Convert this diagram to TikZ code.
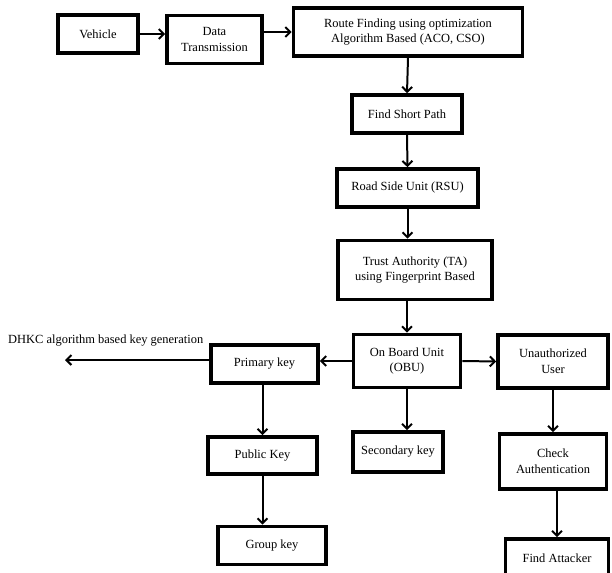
\documentclass[tikz,border=0pt]{standalone}
\usepackage{fontspec}
\setmainfont{Liberation Serif}
\usepackage{tikz}
\usetikzlibrary{arrows.meta}

\begin{document}
\begin{tikzpicture}[
  x=1bp, y=-1bp,
  >={Straight Barb[length=5pt,width=10pt]},
  stepbox/.style={draw, line width=3.6pt, align=center, inner sep=0pt,
    font=\fontsize{12.5}{16}\selectfont},
  flow/.style={->, line width=2pt}
]
  \useasboundingbox (0,0) rectangle (612,573);
  \node[stepbox, minimum width=80bp, minimum height=38bp] (veh) at (98,34) {Vehicle};
  \node[stepbox, minimum width=95bp, minimum height=48bp] (data) at (214.5,39.5) {Data\\Transmission};
  \node[stepbox, minimum width=229bp, minimum height=48bp] (route) at (408,32) {Route Finding using optimization\\Algorithm Based (ACO, CSO)};
  \node[stepbox, minimum width=110bp, minimum height=38bp] (fsp) at (407,114) {Find Short Path};
  \node[stepbox, minimum width=141bp, minimum height=38bp] (rsu) at (407.5,188) {Road Side Unit (RSU)};
  \node[stepbox, minimum width=154bp, minimum height=59bp] (ta) at (415,270) {Trust Authority (TA)\\using Fingerprint Based};
  \node[stepbox, minimum width=107bp, minimum height=53bp] (obu) at (407,361) {On Board Unit\\(OBU)};
  \node[stepbox, minimum width=110bp, minimum height=53bp] (unauth) at (553,361.5) {Unauthorized\\User};
  \node[stepbox, minimum width=107bp, minimum height=38bp] (prim) at (264.5,364) {Primary key};
  \node[stepbox, minimum width=109bp, minimum height=37bp] (pub) at (262.5,455.5) {Public Key};
  \node[stepbox, minimum width=108bp, minimum height=38bp] (grp) at (272,545.5) {Group key};
  \node[stepbox, minimum width=90bp, minimum height=40bp] (sec) at (398,452) {Secondary key};
  \node[stepbox, minimum width=107bp, minimum height=55bp] (chk) at (553,461.5) {Check\\Authentication};
  \node[stepbox, minimum width=103bp, minimum height=38bp] (fa) at (557,558) {Find Attacker};
  \node[anchor=west, inner sep=0pt, font=\fontsize{12.5}{14}\selectfont] (dhkc) at (8,341) {DHKC algorithm based key generation};
  \coordinate (keygen) at (65,360);

  \draw[flow] (veh.east) -- (data.west |- veh.east);
  \draw[flow] (data.east |- route.west) -- (route.west);
  \draw[flow] (route.south) -- (fsp.north);
  \draw[flow] (fsp.south) -- (rsu.north);
  \draw[flow] (rsu.south) -- (rsu.south |- ta.north);
  \draw[flow] (obu.north |- ta.south) -- (obu.north);
  \draw[flow] (obu.west) -- (prim.east |- obu.west);
  \draw[flow] (prim.west |- keygen) -- (keygen);
  \draw[flow] (obu.east) -- (unauth.west);
  \draw[flow] (obu.south) -- (obu.south |- sec.north);
  \draw[flow] (unauth.south) -- (chk.north);
  \draw[flow] (fa.north |- chk.south) -- (fa.north);
  \draw[flow] (pub.north |- prim.south) -- (pub.north);
  \draw[flow] (pub.south) -- (pub.south |- grp.north);
\end{tikzpicture}
\end{document}
